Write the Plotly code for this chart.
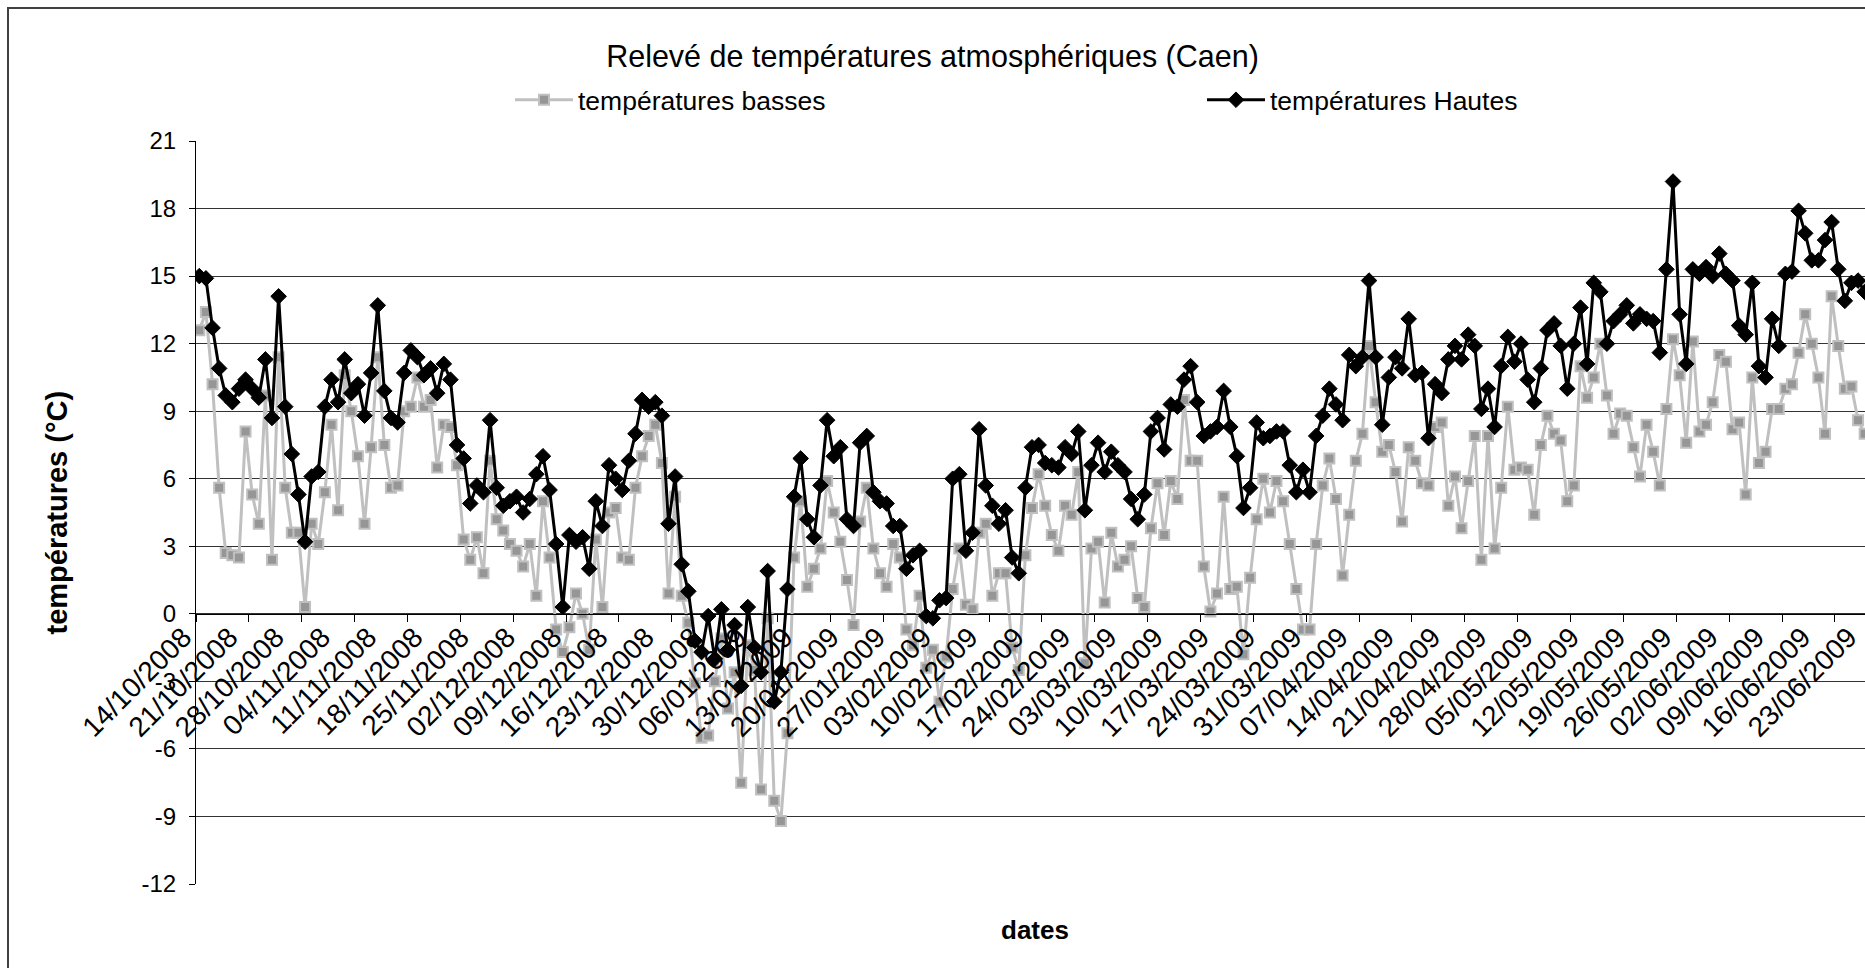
import pandas as pd
import plotly.graph_objects as go

# Daily minimum temperatures (°C), Caen, starting 14/10/2008
temp_basses = [
    12.6, 13.4, 10.2, 5.6, 2.7, 2.6, 2.5, 8.1, 5.3, 4.0,
    9.7, 2.4, 11.4, 5.6, 3.6, 3.6, 0.3, 4.0, 3.1, 5.4,
    8.4, 4.6, 10.6, 9.0, 7.0, 4.0, 7.4, 11.4, 7.5, 5.6,
    5.7, 9.0, 9.2, 10.5, 9.2, 9.5, 6.5, 8.4, 8.3, 6.6,
    3.3, 2.4, 3.4, 1.8, 6.8, 4.2, 3.7, 3.1, 2.8, 2.1,
    3.1, 0.8, 5.0, 2.5, -0.7, -1.7, -0.6, 0.9, 0.0, -1.6,
    3.3, 0.3, 4.5, 4.7, 2.5, 2.4, 5.6, 7.0, 7.9, 8.4,
    6.7, 0.9, 5.2, 0.8, -0.4, -3.1, -5.5, -5.4, -3.0, -1.1,
    -4.2, -2.6, -7.5, -1.4, -2.5, -7.8, -0.2, -8.3, -9.2, -5.3,
    2.5, 5.0, 1.2, 2.0, 2.9, 5.9, 4.5, 3.2, 1.5, -0.5,
    4.1, 5.6, 2.9, 1.8, 1.2, 3.1, 2.5, -0.7, -1.4, 0.8,
    -2.4, -1.6, -3.9, -1.9, 1.1, 2.9, 0.4, 0.2, 3.6, 4.0,
    0.8, 1.8, 1.8, -1.5, -2.5, 2.6, 4.7, 6.2, 4.8, 3.5,
    2.8, 4.8, 4.4, 6.3, -2.2, 2.9, 3.2, 0.5, 3.6, 2.1,
    2.4, 3.0, 0.7, 0.3, 3.8, 5.8, 3.5, 5.9, 5.1, 9.5,
    6.8, 6.8, 2.1, 0.1, 0.9, 5.2, 1.1, 1.2, -1.8, 1.6,
    4.2, 6.0, 4.5, 5.9, 5.0, 3.1, 1.1, -0.7, -0.7, 3.1,
    5.7, 6.9, 5.1, 1.7, 4.4, 6.8, 8.0, 11.9, 9.4, 7.2,
    7.5, 6.3, 4.1, 7.4, 6.8, 5.8, 5.7, 8.3, 8.5, 4.8,
    6.1, 3.8, 5.9, 7.9, 2.4, 7.9, 2.9, 5.6, 9.2, 6.4,
    6.5, 6.4, 4.4, 7.5, 8.8, 8.0, 7.7, 5.0, 5.7, 11.0,
    9.6, 10.5, 12.0, 9.7, 8.0, 8.9, 8.8, 7.4, 6.1, 8.4,
    7.2, 5.7, 9.1, 12.2, 10.6, 7.6, 12.1, 8.1, 8.4, 9.4,
    11.5, 11.2, 8.2, 8.5, 5.3, 10.5, 6.7, 7.2, 9.1, 9.1,
    10.0, 10.2, 11.6, 13.3, 12.0, 10.5, 8.0, 14.1, 11.9, 10.0,
    10.1, 8.6, 8.0,
]

# Daily maximum temperatures (°C), same days
temp_hautes = [
    15.0, 14.9, 12.7, 10.9, 9.7, 9.4, 10.0, 10.4, 10.0, 9.6,
    11.3, 8.7, 14.1, 9.2, 7.1, 5.3, 3.2, 6.1, 6.3, 9.2,
    10.4, 9.4, 11.3, 9.8, 10.2, 8.8, 10.7, 13.7, 9.9, 8.7,
    8.5, 10.7, 11.7, 11.4, 10.6, 10.9, 9.8, 11.1, 10.4, 7.5,
    6.9, 4.9, 5.7, 5.4, 8.6, 5.6, 4.8, 5.0, 5.2, 4.5,
    5.1, 6.2, 7.0, 5.5, 3.1, 0.3, 3.5, 3.2, 3.4, 2.0,
    5.0, 3.9, 6.6, 6.0, 5.5, 6.8, 8.0, 9.5, 9.2, 9.4,
    8.8, 4.0, 6.1, 2.2, 1.0, -1.2, -1.7, -0.1, -2.0, 0.2,
    -1.6, -0.5, -3.2, 0.3, -1.5, -2.6, 1.9, -3.9, -2.6, 1.1,
    5.2, 6.9, 4.2, 3.4, 5.7, 8.6, 7.0, 7.4, 4.2, 3.9,
    7.6, 7.9, 5.4, 5.0, 4.9, 3.9, 3.9, 2.0, 2.6, 2.8,
    -0.1, -0.2, 0.6, 0.7, 6.0, 6.2, 2.8, 3.6, 8.2, 5.7,
    4.8, 4.0, 4.6, 2.5, 1.8, 5.6, 7.4, 7.5, 6.7, 6.6,
    6.5, 7.4, 7.1, 8.1, 4.6, 6.6, 7.6, 6.3, 7.2, 6.6,
    6.3, 5.1, 4.2, 5.3, 8.1, 8.7, 7.3, 9.3, 9.2, 10.4,
    11.0, 9.4, 7.9, 8.1, 8.3, 9.9, 8.3, 7.0, 4.7, 5.6,
    8.5, 7.8, 7.9, 8.1, 8.1, 6.6, 5.4, 6.4, 5.4, 7.9,
    8.8, 10.0, 9.3, 8.6, 11.5, 11.0, 11.4, 14.8, 11.4, 8.4,
    10.5, 11.4, 10.9, 13.1, 10.6, 10.7, 7.8, 10.2, 9.8, 11.3,
    11.9, 11.3, 12.4, 11.9, 9.1, 10.0, 8.3, 11.0, 12.3, 11.2,
    12.0, 10.4, 9.4, 10.9, 12.6, 12.9, 11.9, 10.0, 12.0, 13.6,
    11.1, 14.7, 14.3, 12.0, 13.0, 13.3, 13.7, 12.9, 13.3, 13.1,
    13.0, 11.6, 15.3, 19.2, 13.3, 11.1, 15.3, 15.1, 15.4, 15.0,
    16.0, 15.1, 14.8, 12.8, 12.4, 14.7, 11.0, 10.5, 13.1, 11.9,
    15.1, 15.2, 17.9, 16.9, 15.7, 15.7, 16.6, 17.4, 15.3, 13.9,
    14.7, 14.8, 14.3,
]

# Category axis: one point per day, labelled every week
dates = pd.date_range("2008-10-14", periods=len(temp_hautes), freq="D")
day_index = list(range(len(dates)))
label_step = 7
tick_positions = day_index[::label_step]
tick_labels = [d.strftime("%d/%m/%Y") for d in dates[::label_step]]

# Value axis ticks, written with a plain hyphen for negatives
y_min, y_max, y_step = -12, 21, 3
y_ticks = list(range(y_min, y_max + 1, y_step))
y_tick_text = [str(v) for v in y_ticks]

FONT = "Liberation Sans, Arial, sans-serif"

fig = go.Figure()

fig.add_trace(go.Scatter(
    x=day_index, y=temp_basses, name="températures basses",
    mode="lines+markers",
    line=dict(color="#C0C0C0", width=3),
    marker=dict(symbol="square", size=10, color="#969696",
                line=dict(color="#C0C0C0", width=2)),
    legend="legend",
))
fig.add_trace(go.Scatter(
    x=day_index, y=temp_hautes, name="températures Hautes",
    mode="lines+markers",
    line=dict(color="#000000", width=3),
    marker=dict(symbol="diamond", size=12, color="#000000",
                line=dict(color="#000000", width=1)),
    legend="legend2",
))

ML, MR, MT, MB = 196, 0, 141, 84
W, H = 1865, 968
plot_w = W - ML - MR
plot_h = H - MT - MB


def px_x(px):
    return (px - ML) / plot_w


def px_y(py):
    return (H - MB - py) / plot_h


legend_style = dict(orientation="h", y=px_y(100), xanchor="left",
                    yanchor="middle", itemwidth=58,
                    font=dict(size=26.5, family=FONT, color="black"),
                    bgcolor="rgba(0,0,0,0)")

fig.update_layout(
    width=W, height=H,
    margin=dict(l=ML, r=MR, t=MT, b=MB, pad=0, autoexpand=False),
    paper_bgcolor="white", plot_bgcolor="white",
    font=dict(family=FONT, color="black", size=24),
    title=dict(text="Relevé de températures atmosphériques (Caen)",
               x=0.5, xanchor="center", y=1 - 56 / H, yanchor="middle",
               font=dict(size=30.5, family=FONT, color="black")),
    showlegend=True,
    legend=dict(x=px_x(510), **legend_style),
    legend2=dict(x=px_x(1202), **legend_style),
    xaxis=dict(
        type="linear", range=[-0.5, 252.05], automargin=False,
        tickmode="array", tickvals=tick_positions, ticktext=tick_labels,
        tickangle=-45, ticks="", showgrid=False, zeroline=False,
        showline=True, linecolor="black", linewidth=1,
        anchor="free", position=(0 - y_min) / (y_max - y_min),
        tickfont=dict(size=28, family=FONT, color="black"),
        ticklabeloverflow="allow", ticklabelshift=-16, ticklabelstandoff=-5,
        minor=dict(tickmode="linear", tick0=-0.5, dtick=8,
                   ticks="outside", ticklen=7, tickcolor="black",
                   tickwidth=1, showgrid=False),
    ),
    yaxis=dict(
        range=[y_min, y_max], tickmode="array", automargin=False,
        tickvals=y_ticks, ticktext=y_tick_text,
        ticks="outside", ticklen=6, tickcolor="black", tickwidth=1,
        showgrid=True, gridcolor="#333333", gridwidth=1,
        zeroline=False, showline=True, linecolor="black", linewidth=1,
        tickfont=dict(size=24, family=FONT, color="black"),
        ticklabelstandoff=8,
    ),
    shapes=[dict(type="rect", xref="paper", yref="paper",
                 x0=px_x(8), y0=px_y(H + 40), x1=px_x(W + 40), y1=px_y(8),
                 line=dict(color="#404040", width=2), fillcolor="rgba(0,0,0,0)",
                 layer="below")],
    annotations=[
        dict(text="<b>températures (°C)</b>", textangle=-90,
             xref="paper", yref="paper", x=px_x(56), y=0.5,
             xanchor="center", yanchor="middle", showarrow=False,
             font=dict(size=29, family=FONT, color="black")),
        dict(text="<b>dates</b>", xref="paper", yref="paper",
             x=px_x(1035), y=px_y(930), xanchor="center", yanchor="middle",
             showarrow=False, font=dict(size=26, family=FONT, color="black")),
    ],
)

fig.write_html("out.html")
